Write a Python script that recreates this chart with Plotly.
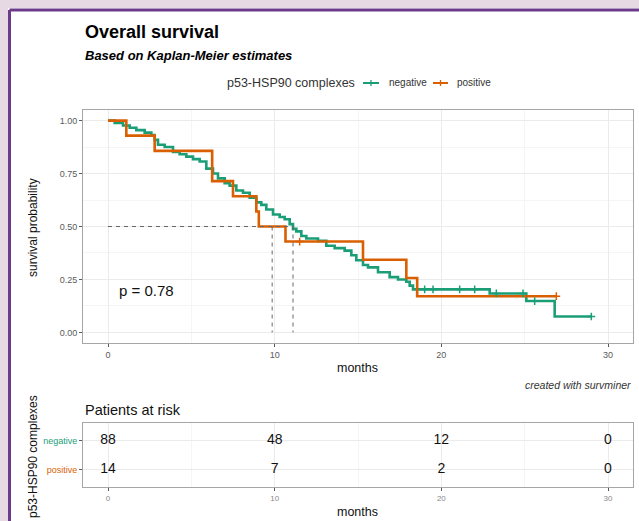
import plotly.graph_objects as go

W, H = 639, 521

# ---------------- data ----------------
groups = ["negative", "positive"]

neg_time = [0, 0.4, 0.9, 1.3, 1.7, 2.2, 2.6, 2.8, 3.0, 3.4, 3.9, 4.3, 4.7, 5.1, 5.5,
            5.9, 6.3, 6.6, 7.0, 7.3, 7.7, 8.1, 8.5, 8.9, 9.2, 9.5, 9.9, 10.3, 10.6,
            10.9, 11.1, 11.3, 11.6, 11.9, 12.6, 13.1, 13.6, 14.2, 14.6, 14.9, 15.3,
            15.6, 16.2, 16.9, 17.4, 17.9, 18.1, 18.3, 22.9, 25.1, 26.8, 29.0]
neg_surv = [1.0, 0.989, 0.977, 0.966, 0.955, 0.943, 0.932, 0.909, 0.886, 0.875, 0.852,
            0.841, 0.830, 0.818, 0.807, 0.773, 0.750, 0.727, 0.705, 0.693, 0.670, 0.659,
            0.636, 0.614, 0.602, 0.580, 0.557, 0.545, 0.534, 0.511, 0.489, 0.477, 0.455,
            0.443, 0.432, 0.409, 0.398, 0.386, 0.364, 0.341, 0.318, 0.307, 0.284, 0.261,
            0.250, 0.239, 0.221, 0.203, 0.184, 0.148, 0.075, 0.075]

pos_time = [0, 1.1, 2.8, 6.25, 7.5, 8.9, 9.05, 10.65, 15.3, 17.9, 18.55, 26.9]
pos_surv = [1.0, 0.929, 0.857, 0.714, 0.643, 0.571, 0.5, 0.429, 0.343, 0.257, 0.171, 0.171]

neg_cens_time = [19.0, 19.5, 21.1, 22.0, 23.3, 24.9, 25.6, 29.0]
neg_cens_surv = [0.203, 0.203, 0.203, 0.203, 0.184, 0.184, 0.148, 0.075]
pos_cens_time = [11.5, 26.9]
pos_cens_surv = [0.429, 0.171]

median_times = [9.85, 11.1]
median_level = 0.5
p_label = "p = 0.78"

risk_times = [0, 10, 20, 30]
risk_neg = [88, 48, 12, 0]
risk_pos = [14, 7, 2, 0]

x_ticks = [0, 10, 20, 30]
y_ticks = [0, 0.25, 0.5, 0.75, 1.0]
y_tick_text = ["0.00", "0.25", "0.50", "0.75", "1.00"]

# ---------------- style ----------------
GREEN = "#1B9E77"
ORANGE = "#D95F02"
FONT = "Liberation Sans, Arial, sans-serif"
TICKC = "#5a5a5a"
BORDER = "#a6a6a6"
GRID = "#ebebeb"
GRID_MINOR = "#f5f5f5"


def fx(px):
    return px / W


def fy(py):
    return 1 - py / H


fig = go.Figure()

# survival curves
fig.add_trace(go.Scatter(x=neg_time, y=neg_surv, mode="lines", line=dict(color=GREEN, width=2.6, shape="hv"),
                         showlegend=False, xaxis="x", yaxis="y"))
fig.add_trace(go.Scatter(x=pos_time, y=pos_surv, mode="lines", line=dict(color=ORANGE, width=2.6, shape="hv"),
                         showlegend=False, xaxis="x", yaxis="y"))
fig.add_trace(go.Scatter(x=neg_cens_time, y=neg_cens_surv, mode="markers",
                         marker=dict(symbol="cross-thin", size=5.5, line=dict(color=GREEN, width=1.5)),
                         showlegend=False, xaxis="x", yaxis="y"))
fig.add_trace(go.Scatter(x=pos_cens_time, y=pos_cens_surv, mode="markers",
                         marker=dict(symbol="cross-thin", size=5.5, line=dict(color=ORANGE, width=1.5)),
                         showlegend=False, xaxis="x", yaxis="y"))

# median lines
fig.add_trace(go.Scatter(x=[0, max(median_times)], y=[median_level, median_level], mode="lines",
                         line=dict(color="#666666", width=1, dash="4px,4px"),
                         showlegend=False, xaxis="x", yaxis="y"))
for mt in median_times:
    fig.add_trace(go.Scatter(x=[mt, mt], y=[median_level, 0], mode="lines",
                             line=dict(color="#666666", width=1, dash="4px,4px"),
                             showlegend=False, xaxis="x", yaxis="y"))

# p value
fig.add_trace(go.Scatter(x=[2.3], y=[0.19], mode="text", text=[p_label],
                         textfont=dict(family=FONT, size=15, color="#111111"),
                         showlegend=False, xaxis="x", yaxis="y"))

# risk table
fig.add_trace(go.Scatter(x=risk_times, y=[2] * len(risk_times), mode="text",
                         text=[str(v) for v in risk_neg],
                         textfont=dict(family=FONT, size=14, color="#111111"),
                         showlegend=False, xaxis="x2", yaxis="y2"))
fig.add_trace(go.Scatter(x=risk_times, y=[1] * len(risk_times), mode="text",
                         text=[str(v) for v in risk_pos],
                         textfont=dict(family=FONT, size=14, color="#111111"),
                         showlegend=False, xaxis="x2", yaxis="y2"))

axis_common = dict(showline=True, mirror=True, linecolor=BORDER, linewidth=1,
                   ticks="outside", ticklen=3, tickcolor=TICKC, zeroline=False,
                   gridcolor=GRID, gridwidth=1)

fig.update_layout(
    width=W, height=H,
    margin=dict(l=0, r=0, t=0, b=0),
    paper_bgcolor="white", plot_bgcolor="white",
    font=dict(family=FONT, color="#111111"),
    xaxis=dict(domain=[fx(83), fx(633)], range=[-1.5, 31.5], tickvals=x_ticks,
               tickfont=dict(size=9, color=TICKC), anchor="y",
               minor=dict(dtick=5, tick0=0, showgrid=True, gridcolor=GRID_MINOR, ticks=""),
               **axis_common),
    yaxis=dict(domain=[fy(343), fy(110)], range=[-0.05, 1.05], tickvals=y_ticks, ticktext=y_tick_text,
               tickfont=dict(size=9, color=TICKC), anchor="x",
               minor=dict(dtick=0.125, tick0=0, showgrid=True, gridcolor=GRID_MINOR, ticks=""),
               **axis_common),
    xaxis2=dict(domain=[fx(83), fx(633)], range=[-1.5, 31.5], tickvals=x_ticks,
                tickfont=dict(size=8, color="#888888"), anchor="y2",
                minor=dict(dtick=5, tick0=0, showgrid=True, gridcolor=GRID_MINOR, ticks=""),
                **axis_common),
    yaxis2=dict(domain=[fy(487), fy(423)], range=[0.4, 2.6], tickvals=[2, 1],
                ticktext=["<span style='color:%s'>%s</span>" % (GREEN, groups[0]),
                          "<span style='color:%s'>%s</span>" % (ORANGE, groups[1])],
                tickfont=dict(size=9), anchor="x2",
                **axis_common),
)

ann = []
ann.append(dict(text="<b>Overall survival</b>", x=fx(83), y=fy(32), xanchor="left", yanchor="middle",
                font=dict(size=18, color="#000000")))
ann.append(dict(text="<b><i>Based on Kaplan-Meier estimates</i></b>", x=fx(83), y=fy(56), xanchor="left",
                yanchor="middle", font=dict(size=13, color="#000000")))
ann.append(dict(text="p53-HSP90 complexes", x=fx(225), y=fy(83), xanchor="left", yanchor="middle",
                font=dict(size=12.5, color="#333333")))
ann.append(dict(text=groups[0], x=fx(387), y=fy(83), xanchor="left", yanchor="middle",
                font=dict(size=10, color="#333333")))
ann.append(dict(text=groups[1], x=fx(455), y=fy(83), xanchor="left", yanchor="middle",
                font=dict(size=10, color="#333333")))
ann.append(dict(text="survival probability", x=fx(33), y=fy(228), textangle=-90, xanchor="center",
                yanchor="middle", font=dict(size=12, color="#111111")))
ann.append(dict(text="months", x=fx(357), y=fy(368), xanchor="center", yanchor="middle",
                font=dict(size=12.5, color="#111111")))
ann.append(dict(text="<i>created with survminer</i>", x=fx(633), y=fy(385), xanchor="right", yanchor="middle",
                font=dict(size=10.5, color="#333333")))
ann.append(dict(text="Patients at risk", x=fx(83), y=fy(410), xanchor="left", yanchor="middle",
                font=dict(size=14.5, color="#111111")))
ann.append(dict(text="p53-HSP90 complexes", x=fx(33), y=fy(457), textangle=-90, xanchor="center",
                yanchor="middle", font=dict(size=12, color="#111111")))
ann.append(dict(text="months", x=fx(357), y=fy(512), xanchor="center", yanchor="middle",
                font=dict(size=12.5, color="#111111")))
for a in ann:
    a.update(xref="paper", yref="paper", showarrow=False)
fig.update_layout(annotations=ann)

shapes = []
# outer frame (pinkish background and purple border)
PINK = "#e6d9e3"
PURPLE = "#6b3a8b"
shapes.append(dict(type="rect", x0=0, x1=1, y0=fy(8), y1=1, fillcolor=PINK, line=dict(width=0)))
shapes.append(dict(type="rect", x0=0, x1=fx(8), y0=0, y1=1, fillcolor=PINK, line=dict(width=0)))
shapes.append(dict(type="line", x0=fx(9.5), x1=1, y0=fy(10), y1=fy(10), line=dict(color=PURPLE, width=3)))
shapes.append(dict(type="line", x0=fx(9.5), x1=fx(9.5), y0=0, y1=fy(10), line=dict(color=PURPLE, width=3)))
# legend keys
for (xa, xb, col) in [(363, 379, GREEN), (433, 448, ORANGE)]:
    shapes.append(dict(type="line", x0=fx(xa), x1=fx(xb), y0=fy(83), y1=fy(83), line=dict(color=col, width=2)))
    xm = (xa + xb) / 2
    shapes.append(dict(type="line", x0=fx(xm), x1=fx(xm), y0=fy(80), y1=fy(86), line=dict(color=col, width=1.3)))
for s in shapes:
    s.update(xref="paper", yref="paper", layer="above")
fig.update_layout(shapes=shapes)

fig.write_html("out.html")
